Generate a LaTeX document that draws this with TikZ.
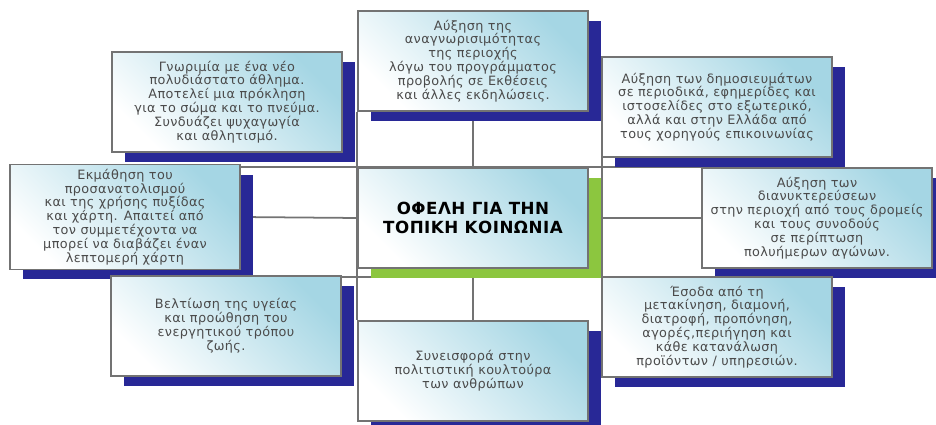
\documentclass[tikz,border=0pt]{standalone}
\usepackage{fontspec}
\newfontfamily\boxfont[LetterSpace=3]{DejaVu Sans}
\usepackage{tikz}
\usetikzlibrary{shadows,backgrounds}
\definecolor{navyshade}{RGB}{40,40,150}
\definecolor{limeshade}{RGB}{140,198,63}
\definecolor{paleblue}{RGB}{165,214,228}
\definecolor{inkgray}{RGB}{75,75,75}
\definecolor{wiregray}{RGB}{115,115,115}

\begin{document}
\begin{tikzpicture}[x=0.02cm,y=-0.02cm,
    card/.style={draw=wiregray, line width=0.9pt, align=center, inner sep=1pt,
      minimum width=4.6cm, minimum height=2cm, text=inkgray,
      font=\boxfont\fontsize{7.3}{7.9}\selectfont,
      top color=paleblue, middle color=paleblue!20!white, bottom color=white,
      shading angle=-45},
    benefit/.style={card,
      general shadow={fill=navyshade, shadow xshift=0.26cm, shadow yshift=-0.2cm}},
    hub/.style={card, text=black, font=\boxfont\fontsize{9.5}{10.5}\selectfont\bfseries,
      general shadow={fill=limeshade, shadow xshift=0.26cm, shadow yshift=-0.2cm}},
    link/.style={draw=wiregray, line width=1pt}]
  \useasboundingbox (0,0) rectangle (936,425);

  % center and the eight benefits
  \node[hub] (c) at (473,218) {ΟΦΕΛΗ ΓΙΑ ΤΗΝ\\ ΤΟΠΙΚΗ ΚΟΙΝΩΝΙΑ};
  \node[benefit] (t) at (473,61) {Αύξηση της\\ αναγνωρισιμότητας\\ της περιοχής\\
    λόγω του προγράμματος\\ προβολής σε Εκθέσεις\\ και άλλες εκδηλώσεις.};
  \node[benefit] (tl) at (227,102) {Γνωριμία με ένα νέο\\ πολυδιάστατο άθλημα.\\
    Αποτελεί μια πρόκληση\\ για το σώμα και το πνεύμα.\\ Συνδυάζει ψυχαγωγία\\ και αθλητισμό.};
  \node[benefit] (tr) at (717,107) {Αύξηση των δημοσιευμάτων\\ σε περιοδικά, εφημερίδες και\\
    ιστοσελίδες στο εξωτερικό,\\ αλλά και στην Ελλάδα από\\ τους χορηγούς επικοινωνίας};
  \node[benefit, minimum height=2.1cm] (l) at (125,217) {Εκμάθηση του\\ προσανατολισμού\\
    και της χρήσης πυξίδας\\ και χάρτη. Απαιτεί από\\ τον συμμετέχοντα να\\
    μπορεί να διαβάζει έναν\\ λεπτομερή χάρτη};
  \node[benefit] (r) at (817,218) {Αύξηση των\\ διανυκτερεύσεων\\ στην περιοχή από τους δρομείς\\
    και τους συνοδούς\\ σε περίπτωση\\ πολυήμερων αγώνων.};
  \node[benefit] (bl) at (226,326) {Βελτίωση της υγείας\\ και προώθηση του\\
    ενεργητικού τρόπου\\ ζωής.};
  \node[benefit] (br) at (717,327) {Έσοδα από τη\\ μετακίνηση, διαμονή,\\ διατροφή, προπόνηση,\\
    αγορές,περιήγηση και\\ κάθε κατανάλωση\\ προϊόντων / υπηρεσιών.};
  \node[benefit] (b) at (473,371) {Συνεισφορά στην\\ πολιτιστική κουλτούρα\\ των ανθρώπων};

  % frame and links behind the cards
  \coordinate (ce) at ([xshift=0.26cm]c.east);
  \coordinate (cs) at ([yshift=-0.16cm]c.south);
  \begin{scope}[on background layer]
    \draw[link] (c.west |- t.south) -- (c.west |- b.north);
    \draw[link] (ce |- t.south) -- (ce |- b.north);
    \draw[link] (l.east |- c.north) -- (r.west |- c.north);
    \draw[link] (l.east |- cs) -- (r.west |- cs);
    \draw[link] (t.south) -- (c.north);
    \draw[link] (c.south) -- (b.north);
    \draw[link] (l.east) -- (c.west);
    \draw[link] (c.east) -- (r.west);
  \end{scope}
\end{tikzpicture}
\end{document}
